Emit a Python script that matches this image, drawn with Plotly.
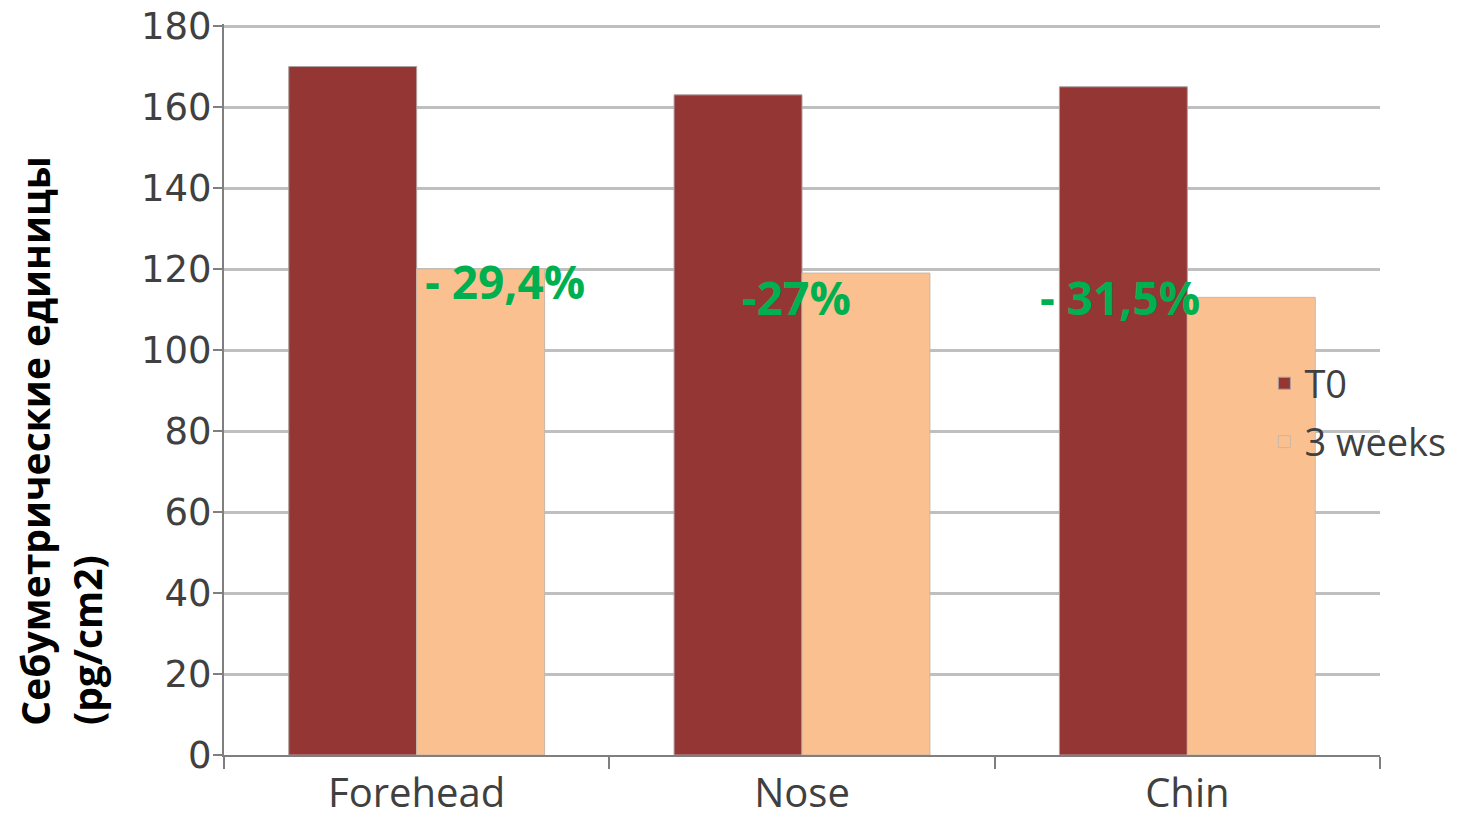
import plotly.graph_objects as go

categories = ["Forehead", "Nose", "Chin"]
t0_values = [170, 163, 165]
week3_values = [120, 119, 113]
series_names = ["T0", "3 weeks"]
change_labels = ["- 29,4%", "-27%", "- 31,5%"]
y_title_lines = ["Себуметрические единицы", "(pg/cm2)"]

fig = go.Figure()
fig.add_trace(go.Bar(x=categories, y=t0_values, name=series_names[0], legendgroup="g1",
                     marker=dict(color="#943634", line=dict(color="#b0a0a0", width=1))))
fig.add_trace(go.Bar(x=categories, y=week3_values, name=series_names[1], legendgroup="g2",
                     marker=dict(color="#FAC090", line=dict(color="#c8b8a8", width=1))))

# percentage change labels
label_y = [117, 113, 113]
label_dx = [88, -6, -67]
for cat, lab, ly, dx in zip(categories, change_labels, label_y, label_dx):
    fig.add_annotation(x=cat, y=ly, text=lab, showarrow=False, xshift=dx,
                       font=dict(family="Open Sans", size=46, color="#00B050", weight="bold"))

# y axis title lines (bottom aligned)
fig.add_annotation(xref="paper", yref="paper", x=-0.164, y=0.038, text=y_title_lines[0],
                   textangle=-90, showarrow=False, xanchor="center", yanchor="bottom",
                   font=dict(family="Open Sans", size=39, color="#000000", weight="bold"))
fig.add_annotation(xref="paper", yref="paper", x=-0.1195, y=0.038, text=y_title_lines[1],
                   textangle=-90, showarrow=False, xanchor="center", yanchor="bottom",
                   font=dict(family="Open Sans", size=39, color="#000000", weight="bold"))

fig.update_layout(
    width=1468, height=818, autosize=False,
    margin=dict(l=216, r=96, t=16, b=71, autoexpand=False),
    paper_bgcolor="white", plot_bgcolor="white",
    barmode="group", bargap=0.336, bargroupgap=0,
    showlegend=True,
    legend=dict(x=0.9, y=0.5513, xanchor="left", yanchor="top",
                bgcolor="rgba(0,0,0,0)", font=dict(family="Open Sans", size=38, color="#404040"),
                itemwidth=30, tracegroupgap=6),
    xaxis=dict(showline=True, linecolor="#7f7f7f", linewidth=2, ticks="outside",
               tickson="boundaries", ticklen=12, tickcolor="#7f7f7f", tickwidth=2,
               ticklabelstandoff=2, automargin=False, ticklabeloverflow="allow",
               tickfont=dict(family="Open Sans", size=40, color="#404040"), showgrid=False),
    yaxis=dict(range=[0, 180.5], tickvals=[0, 20, 40, 60, 80, 100, 120, 140, 160, 180],
               showline=True, linecolor="#7f7f7f", linewidth=2,
               ticks="outside", ticklen=9, tickcolor="#7f7f7f", tickwidth=2,
               ticklabelstandoff=-6, ticklabeloverflow="allow",
               showgrid=True, gridcolor="#bfbfbf", gridwidth=3, automargin=False,
               tickfont=dict(family="DejaVu Sans", size=37, color="#404040"), zeroline=False),
)

fig.write_html("out.html")
